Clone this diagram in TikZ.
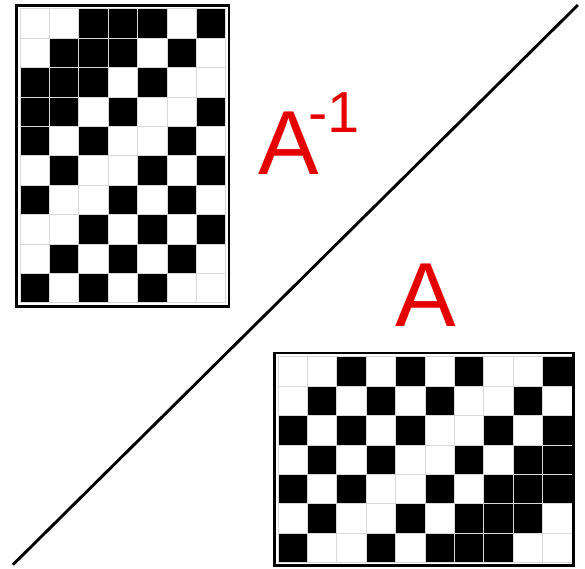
\documentclass[tikz,border=0pt]{standalone}
\usepackage{fontspec}
\setmainfont{Liberation Sans}
\definecolor{labelred}{RGB}{228,0,0}
\tikzset{
  cellline/.style={gray!30,line width=0.8pt},
  frameline/.style={line width=2.6pt},
  redtext/.style={text=labelred,inner sep=0pt,anchor=base west,font=\fontsize{88}{88}\selectfont}
}
\begin{document}
\begin{tikzpicture}[x=1cm,y=1cm]
\useasboundingbox (0,0) rectangle (19.90,19.35);

% upper left matrix, 10 rows x 7 columns
\foreach \r/\cols in {1/{3,4,5,7},2/{2,3,4,6},3/{1,2,3,5},4/{1,2,4,7},5/{1,3,6},
                      6/{2,5,7},7/{1,4,6},8/{3,5,7},9/{2,4,6},10/{1,3,5}}
  \foreach \c in \cols
    \fill (\c-0.32,19.05-\r) rectangle ++(1,1);
\foreach \c in {0,...,7} \draw[cellline] (\c+0.68,9.05) -- ++(0,10);
\foreach \r in {0,...,10} \draw[cellline] (0.68,\r+9.05) -- ++(7,0);
\draw[frameline] (0.56,8.93) rectangle (7.79,19.16);

% lower right matrix, 7 rows x 10 columns
\foreach \r/\cols in {1/{3,5,7,10},2/{2,4,6,9},3/{1,3,5,8,10},4/{2,4,7,9,10},
                      5/{1,3,6,8,9,10},6/{2,5,7,8,9},7/{1,4,6,7,8}}
  \foreach \c in \cols
    \fill (\c+8.456,7.211-\r) rectangle ++(1,1);
\foreach \c in {0,...,10} \draw[cellline] (\c+9.456,0.211) -- ++(0,7);
\foreach \r in {0,...,7} \draw[cellline] (9.456,\r+0.211) -- ++(10,0);
\draw[frameline] (9.34,0.12) rectangle (19.52,7.34);

% diagonal
\draw[line width=2.8pt] (0.44,0.14) -- (19.66,19.18);

\node[redtext] (ainv) at (8.78,13.40) {A\kern-10pt\raisebox{41pt}{\fontsize{56}{56}\selectfont -1}};
\node[redtext] (amat) at (13.43,8.23) {A};
\end{tikzpicture}
\end{document}
